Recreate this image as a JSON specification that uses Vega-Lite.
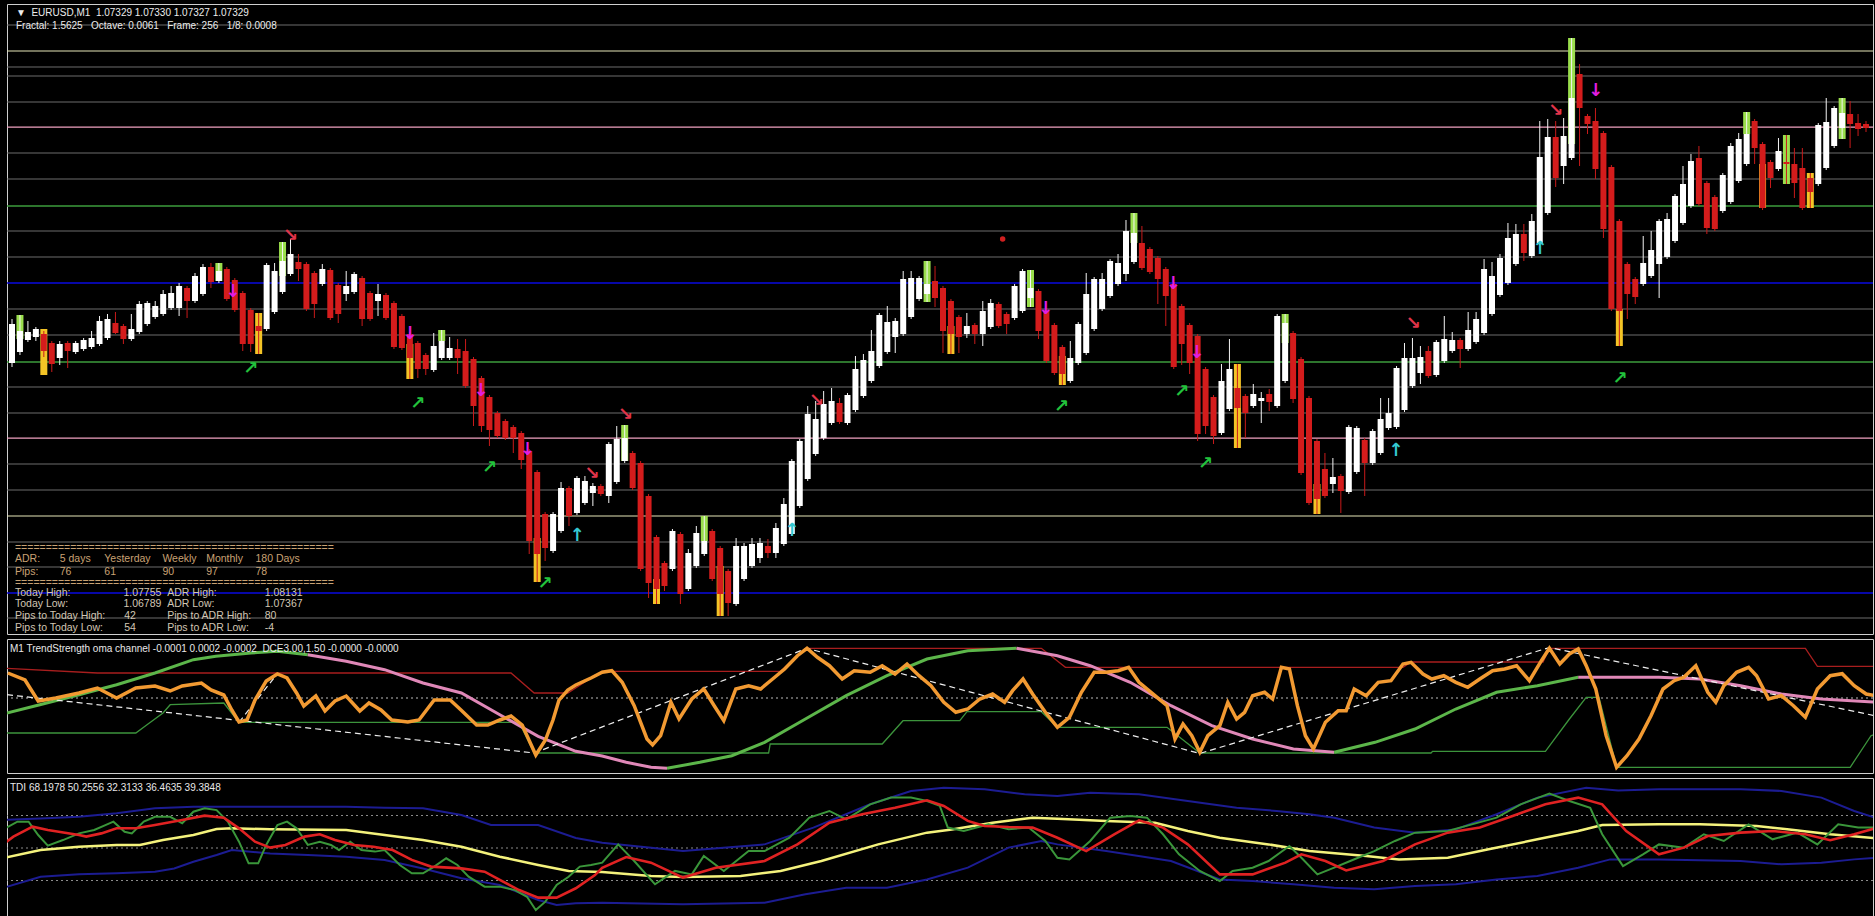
{
"$schema":"https://vega.github.io/schema/vega-lite/v6.json",
"background":"#000000",
"padding":{"left":5,"top":3,"right":4,"bottom":0},
"spacing":3,
"config":{"view":{"stroke":"#cfcfcf","strokeWidth":1}},
"resolve":{"scale":{"x":"independent","y":"independent","color":"independent","strokeWidth":"independent"}},
"datasets":{
"levels":[{"p":1.07432,"k":"gray"},{"p":1.07406,"k":"yel"},{"p":1.0739,"k":"gray"},{"p":1.07381,"k":"gray"},{"p":1.07355,"k":"gray"},{"p":1.0733,"k":"pink"},{"p":1.07304,"k":"gray"},{"p":1.07278,"k":"gray"},{"p":1.07251,"k":"grn"},{"p":1.07226,"k":"gray"},{"p":1.072,"k":"gray"},{"p":1.07174,"k":"blue"},{"p":1.07148,"k":"gray"},{"p":1.07122,"k":"gray"},{"p":1.07095,"k":"grn"},{"p":1.0707,"k":"gray"},{"p":1.07044,"k":"gray"},{"p":1.07019,"k":"pink"},{"p":1.06993,"k":"gray"},{"p":1.06967,"k":"gray"},{"p":1.06941,"k":"yel"},{"p":1.06915,"k":"gray"},{"p":1.0689,"k":"gray"},{"p":1.06864,"k":"blue"},{"p":1.06839,"k":"gray"}],
"candles":[
{"i":0,"o":1.07094,"h":1.07138,"l":1.0709,"c":1.07133},
{"i":1,"o":1.07105,"h":1.07142,"l":1.07102,"c":1.07126},
{"i":2,"o":1.07117,"h":1.07136,"l":1.07115,"c":1.07125},
{"i":3,"o":1.0712,"h":1.0713,"l":1.07116,"c":1.07128},
{"i":4,"o":1.07123,"h":1.07126,"l":1.071,"c":1.07106},
{"i":5,"o":1.07114,"h":1.07116,"l":1.07085,"c":1.07093},
{"i":6,"o":1.07099,"h":1.07116,"l":1.07092,"c":1.07113},
{"i":7,"o":1.07114,"h":1.07116,"l":1.07089,"c":1.07106},
{"i":8,"o":1.07105,"h":1.07116,"l":1.07103,"c":1.07114},
{"i":9,"o":1.07108,"h":1.07119,"l":1.07106,"c":1.07117},
{"i":10,"o":1.0711,"h":1.07126,"l":1.07108,"c":1.07119},
{"i":11,"o":1.07113,"h":1.07141,"l":1.07111,"c":1.07136},
{"i":12,"o":1.07119,"h":1.07143,"l":1.07117,"c":1.07138},
{"i":13,"o":1.07134,"h":1.07145,"l":1.07123,"c":1.07124},
{"i":14,"o":1.07131,"h":1.07133,"l":1.07113,"c":1.07118},
{"i":15,"o":1.07118,"h":1.07143,"l":1.07116,"c":1.07128},
{"i":16,"o":1.07125,"h":1.07156,"l":1.07123,"c":1.07153},
{"i":17,"o":1.07133,"h":1.07156,"l":1.07131,"c":1.07154},
{"i":18,"o":1.0714,"h":1.07156,"l":1.07138,"c":1.07151},
{"i":19,"o":1.07143,"h":1.07167,"l":1.07141,"c":1.07163},
{"i":20,"o":1.07149,"h":1.07171,"l":1.07147,"c":1.07164},
{"i":21,"o":1.07149,"h":1.07174,"l":1.07141,"c":1.07171},
{"i":22,"o":1.07169,"h":1.07171,"l":1.07139,"c":1.07156},
{"i":23,"o":1.07156,"h":1.07184,"l":1.07154,"c":1.07181},
{"i":24,"o":1.07163,"h":1.07193,"l":1.07161,"c":1.0719},
{"i":25,"o":1.0719,"h":1.07194,"l":1.07169,"c":1.07175},
{"i":26,"o":1.07176,"h":1.07194,"l":1.07174,"c":1.07186},
{"i":27,"o":1.07188,"h":1.0719,"l":1.07156,"c":1.07158},
{"i":28,"o":1.07177,"h":1.07179,"l":1.07145,"c":1.07147},
{"i":29,"o":1.07164,"h":1.07166,"l":1.07106,"c":1.07113},
{"i":30,"o":1.07147,"h":1.07149,"l":1.07105,"c":1.07113},
{"i":31,"o":1.07131,"h":1.07144,"l":1.07103,"c":1.07126},
{"i":32,"o":1.07128,"h":1.07194,"l":1.07126,"c":1.07192},
{"i":33,"o":1.07145,"h":1.07194,"l":1.07143,"c":1.07186},
{"i":34,"o":1.07165,"h":1.07215,"l":1.07163,"c":1.07196},
{"i":35,"o":1.07183,"h":1.07218,"l":1.07181,"c":1.07203},
{"i":36,"o":1.07195,"h":1.07203,"l":1.07176,"c":1.07188},
{"i":37,"o":1.07193,"h":1.07195,"l":1.07146,"c":1.07148},
{"i":38,"o":1.07184,"h":1.07186,"l":1.07139,"c":1.07153},
{"i":39,"o":1.07173,"h":1.07193,"l":1.07171,"c":1.07188},
{"i":40,"o":1.07187,"h":1.07189,"l":1.07137,"c":1.07139},
{"i":41,"o":1.07172,"h":1.07174,"l":1.07134,"c":1.07143},
{"i":42,"o":1.07163,"h":1.07186,"l":1.07156,"c":1.07171},
{"i":43,"o":1.07165,"h":1.07185,"l":1.07163,"c":1.07183},
{"i":44,"o":1.07179,"h":1.07181,"l":1.07131,"c":1.07138},
{"i":45,"o":1.07164,"h":1.07166,"l":1.07136,"c":1.07138},
{"i":46,"o":1.07156,"h":1.07173,"l":1.07141,"c":1.07163},
{"i":47,"o":1.07162,"h":1.07164,"l":1.07137,"c":1.07139},
{"i":48,"o":1.07154,"h":1.07156,"l":1.07108,"c":1.0711},
{"i":49,"o":1.07141,"h":1.07143,"l":1.07107,"c":1.07109},
{"i":50,"o":1.07123,"h":1.07125,"l":1.07078,"c":1.07099},
{"i":51,"o":1.07114,"h":1.07116,"l":1.07079,"c":1.07088},
{"i":52,"o":1.07102,"h":1.07104,"l":1.07082,"c":1.07088},
{"i":53,"o":1.07087,"h":1.07124,"l":1.07085,"c":1.07111},
{"i":54,"o":1.07099,"h":1.07127,"l":1.07097,"c":1.07116},
{"i":55,"o":1.07099,"h":1.0712,"l":1.07097,"c":1.07109},
{"i":56,"o":1.07108,"h":1.07118,"l":1.07083,"c":1.07099},
{"i":57,"o":1.07106,"h":1.07118,"l":1.07069,"c":1.07071},
{"i":58,"o":1.07098,"h":1.071,"l":1.07031,"c":1.07051},
{"i":59,"o":1.07079,"h":1.07081,"l":1.07025,"c":1.07031},
{"i":60,"o":1.0706,"h":1.07062,"l":1.07011,"c":1.07027},
{"i":61,"o":1.07044,"h":1.07046,"l":1.07019,"c":1.07021},
{"i":62,"o":1.07036,"h":1.07038,"l":1.07017,"c":1.07019},
{"i":63,"o":1.0703,"h":1.07032,"l":1.07004,"c":1.07019},
{"i":64,"o":1.07024,"h":1.07026,"l":1.06988,"c":1.06997},
{"i":65,"o":1.07006,"h":1.07008,"l":1.06903,"c":1.06916},
{"i":66,"o":1.06985,"h":1.06987,"l":1.06875,"c":1.06903},
{"i":67,"o":1.06943,"h":1.06945,"l":1.06896,"c":1.06909},
{"i":68,"o":1.06906,"h":1.06945,"l":1.06904,"c":1.06943},
{"i":69,"o":1.06926,"h":1.06975,"l":1.06924,"c":1.06969},
{"i":70,"o":1.06969,"h":1.06971,"l":1.06931,"c":1.06941},
{"i":71,"o":1.06944,"h":1.06981,"l":1.06942,"c":1.06979},
{"i":72,"o":1.06954,"h":1.06981,"l":1.06952,"c":1.06976},
{"i":73,"o":1.06964,"h":1.06974,"l":1.06951,"c":1.06971},
{"i":74,"o":1.06971,"h":1.06973,"l":1.06961,"c":1.06963},
{"i":75,"o":1.06961,"h":1.07015,"l":1.06954,"c":1.07013},
{"i":76,"o":1.06975,"h":1.07031,"l":1.06973,"c":1.07018},
{"i":77,"o":1.06996,"h":1.07032,"l":1.06994,"c":1.07019},
{"i":78,"o":1.07004,"h":1.07006,"l":1.06967,"c":1.06969},
{"i":79,"o":1.06994,"h":1.06996,"l":1.06886,"c":1.06888},
{"i":80,"o":1.06961,"h":1.06963,"l":1.06859,"c":1.06874},
{"i":81,"o":1.0692,"h":1.06922,"l":1.06853,"c":1.06868},
{"i":82,"o":1.06894,"h":1.06896,"l":1.06866,"c":1.06871},
{"i":83,"o":1.06888,"h":1.06928,"l":1.06886,"c":1.06926},
{"i":84,"o":1.06923,"h":1.06925,"l":1.06853,"c":1.06863},
{"i":85,"o":1.06868,"h":1.06908,"l":1.06866,"c":1.06904},
{"i":86,"o":1.06891,"h":1.06931,"l":1.06889,"c":1.06924},
{"i":87,"o":1.06903,"h":1.06941,"l":1.06901,"c":1.06916},
{"i":88,"o":1.06926,"h":1.06928,"l":1.06876,"c":1.06878},
{"i":89,"o":1.06909,"h":1.06911,"l":1.06841,"c":1.06863},
{"i":90,"o":1.06886,"h":1.06888,"l":1.06841,"c":1.06854},
{"i":91,"o":1.06853,"h":1.06919,"l":1.06851,"c":1.06911},
{"i":92,"o":1.06878,"h":1.06914,"l":1.06876,"c":1.06911},
{"i":93,"o":1.06891,"h":1.06919,"l":1.06889,"c":1.06913},
{"i":94,"o":1.06899,"h":1.06919,"l":1.06894,"c":1.06914},
{"i":95,"o":1.06911,"h":1.06918,"l":1.06899,"c":1.06904},
{"i":96,"o":1.06904,"h":1.06934,"l":1.06899,"c":1.06929},
{"i":97,"o":1.06913,"h":1.06959,"l":1.06911,"c":1.06953},
{"i":98,"o":1.06923,"h":1.06998,"l":1.06921,"c":1.06996},
{"i":99,"o":1.06951,"h":1.07018,"l":1.06949,"c":1.07016},
{"i":100,"o":1.06978,"h":1.07051,"l":1.06976,"c":1.07043},
{"i":101,"o":1.07003,"h":1.07056,"l":1.07001,"c":1.07038},
{"i":102,"o":1.07019,"h":1.07066,"l":1.07017,"c":1.07053},
{"i":103,"o":1.07034,"h":1.07069,"l":1.07032,"c":1.07056},
{"i":104,"o":1.07054,"h":1.07059,"l":1.07033,"c":1.07035},
{"i":105,"o":1.07034,"h":1.07064,"l":1.07032,"c":1.07062},
{"i":106,"o":1.07047,"h":1.07101,"l":1.07045,"c":1.07088},
{"i":107,"o":1.07061,"h":1.07103,"l":1.07059,"c":1.07097},
{"i":108,"o":1.07076,"h":1.07127,"l":1.07074,"c":1.07106},
{"i":109,"o":1.07091,"h":1.07144,"l":1.07089,"c":1.07142},
{"i":110,"o":1.07105,"h":1.07151,"l":1.07103,"c":1.07135},
{"i":111,"o":1.0712,"h":1.07139,"l":1.07104,"c":1.07136},
{"i":112,"o":1.07123,"h":1.07186,"l":1.07121,"c":1.07178},
{"i":113,"o":1.0714,"h":1.07186,"l":1.07138,"c":1.07179},
{"i":114,"o":1.07158,"h":1.07181,"l":1.07156,"c":1.07179},
{"i":115,"o":1.07163,"h":1.07196,"l":1.07155,"c":1.07173},
{"i":116,"o":1.07176,"h":1.07191,"l":1.0715,"c":1.07159},
{"i":117,"o":1.07169,"h":1.07171,"l":1.07104,"c":1.07126},
{"i":118,"o":1.07156,"h":1.07158,"l":1.07103,"c":1.07123},
{"i":119,"o":1.0714,"h":1.07142,"l":1.07104,"c":1.0712},
{"i":120,"o":1.07123,"h":1.07144,"l":1.07119,"c":1.07131},
{"i":121,"o":1.07132,"h":1.07134,"l":1.07113,"c":1.07123},
{"i":122,"o":1.07123,"h":1.07156,"l":1.07111,"c":1.07146},
{"i":123,"o":1.0713,"h":1.07158,"l":1.07128,"c":1.07154},
{"i":124,"o":1.07153,"h":1.07155,"l":1.07129,"c":1.07131},
{"i":125,"o":1.07143,"h":1.07145,"l":1.07123,"c":1.07133},
{"i":126,"o":1.07139,"h":1.07173,"l":1.07137,"c":1.07171},
{"i":127,"o":1.07146,"h":1.07188,"l":1.07144,"c":1.07186},
{"i":128,"o":1.07159,"h":1.07187,"l":1.0715,"c":1.07169},
{"i":129,"o":1.07166,"h":1.07168,"l":1.07118,"c":1.07126},
{"i":130,"o":1.07146,"h":1.07148,"l":1.07094,"c":1.07096},
{"i":131,"o":1.07132,"h":1.07134,"l":1.07082,"c":1.07084},
{"i":132,"o":1.0711,"h":1.07112,"l":1.07072,"c":1.07083},
{"i":133,"o":1.07076,"h":1.07116,"l":1.07074,"c":1.07099},
{"i":134,"o":1.07094,"h":1.07135,"l":1.07092,"c":1.07133},
{"i":135,"o":1.07104,"h":1.07184,"l":1.07102,"c":1.07163},
{"i":136,"o":1.07128,"h":1.0718,"l":1.07126,"c":1.07178},
{"i":137,"o":1.07148,"h":1.07184,"l":1.07146,"c":1.07178},
{"i":138,"o":1.07161,"h":1.07198,"l":1.07159,"c":1.07196},
{"i":139,"o":1.07173,"h":1.07203,"l":1.07171,"c":1.07194},
{"i":140,"o":1.07183,"h":1.07237,"l":1.07176,"c":1.07226},
{"i":141,"o":1.07195,"h":1.07244,"l":1.07193,"c":1.07224},
{"i":142,"o":1.07214,"h":1.07231,"l":1.07187,"c":1.07189},
{"i":143,"o":1.07208,"h":1.0721,"l":1.07183,"c":1.07185},
{"i":144,"o":1.07199,"h":1.07201,"l":1.07153,"c":1.07178},
{"i":145,"o":1.07188,"h":1.0719,"l":1.07131,"c":1.07161},
{"i":146,"o":1.07173,"h":1.07175,"l":1.07088,"c":1.0709},
{"i":147,"o":1.07151,"h":1.07153,"l":1.07092,"c":1.07113},
{"i":148,"o":1.07132,"h":1.07134,"l":1.07083,"c":1.07094},
{"i":149,"o":1.07121,"h":1.07123,"l":1.07016,"c":1.07023},
{"i":150,"o":1.07088,"h":1.0709,"l":1.07023,"c":1.07031},
{"i":151,"o":1.0706,"h":1.07062,"l":1.07013,"c":1.07021},
{"i":152,"o":1.07024,"h":1.07093,"l":1.07022,"c":1.07076},
{"i":153,"o":1.07048,"h":1.07118,"l":1.07046,"c":1.07088},
{"i":154,"o":1.07069,"h":1.07093,"l":1.07009,"c":1.07049},
{"i":155,"o":1.07061,"h":1.07063,"l":1.07019,"c":1.07044},
{"i":156,"o":1.07051,"h":1.07073,"l":1.07049,"c":1.07063},
{"i":157,"o":1.07056,"h":1.07065,"l":1.07034,"c":1.07059},
{"i":158,"o":1.07063,"h":1.07068,"l":1.07046,"c":1.07055},
{"i":159,"o":1.07051,"h":1.07143,"l":1.07049,"c":1.07141},
{"i":160,"o":1.07076,"h":1.07143,"l":1.07074,"c":1.07134},
{"i":161,"o":1.07124,"h":1.07126,"l":1.07054,"c":1.07058},
{"i":162,"o":1.07098,"h":1.071,"l":1.06982,"c":1.06984},
{"i":163,"o":1.07059,"h":1.07061,"l":1.06952,"c":1.06954},
{"i":164,"o":1.07016,"h":1.07018,"l":1.06943,"c":1.06958},
{"i":165,"o":1.06988,"h":1.07004,"l":1.06959,"c":1.06961},
{"i":166,"o":1.06973,"h":1.06999,"l":1.06964,"c":1.0698},
{"i":167,"o":1.06981,"h":1.06983,"l":1.06944,"c":1.06966},
{"i":168,"o":1.06965,"h":1.07032,"l":1.06963,"c":1.0703},
{"i":169,"o":1.06985,"h":1.07031,"l":1.06983,"c":1.07029},
{"i":170,"o":1.07017,"h":1.07019,"l":1.06961,"c":1.06994},
{"i":171,"o":1.06994,"h":1.07028,"l":1.06992,"c":1.07026},
{"i":172,"o":1.07004,"h":1.07059,"l":1.07002,"c":1.07038},
{"i":173,"o":1.07029,"h":1.07059,"l":1.07027,"c":1.07044},
{"i":174,"o":1.0703,"h":1.07091,"l":1.07028,"c":1.07089},
{"i":175,"o":1.07047,"h":1.07114,"l":1.07045,"c":1.07099},
{"i":176,"o":1.07071,"h":1.07119,"l":1.07069,"c":1.07099},
{"i":177,"o":1.07084,"h":1.07111,"l":1.07073,"c":1.071},
{"i":178,"o":1.07106,"h":1.07111,"l":1.07079,"c":1.07081},
{"i":179,"o":1.07082,"h":1.07117,"l":1.0708,"c":1.07115},
{"i":180,"o":1.07096,"h":1.07141,"l":1.07094,"c":1.07118},
{"i":181,"o":1.07106,"h":1.07125,"l":1.07104,"c":1.07117},
{"i":182,"o":1.07117,"h":1.07119,"l":1.07089,"c":1.07108},
{"i":183,"o":1.07108,"h":1.07145,"l":1.07106,"c":1.07127},
{"i":184,"o":1.07115,"h":1.07145,"l":1.07113,"c":1.07138},
{"i":185,"o":1.07124,"h":1.07198,"l":1.07122,"c":1.07188},
{"i":186,"o":1.07143,"h":1.07195,"l":1.07141,"c":1.07181},
{"i":187,"o":1.07162,"h":1.07203,"l":1.0716,"c":1.07199},
{"i":188,"o":1.07174,"h":1.07234,"l":1.07172,"c":1.07219},
{"i":189,"o":1.07193,"h":1.07233,"l":1.07191,"c":1.07223},
{"i":190,"o":1.07223,"h":1.07233,"l":1.07196,"c":1.07204},
{"i":191,"o":1.07201,"h":1.07243,"l":1.07199,"c":1.07236},
{"i":192,"o":1.07214,"h":1.07336,"l":1.07212,"c":1.073},
{"i":193,"o":1.07244,"h":1.07338,"l":1.07242,"c":1.0732},
{"i":194,"o":1.0732,"h":1.07336,"l":1.0727,"c":1.07279},
{"i":195,"o":1.07291,"h":1.07339,"l":1.07273,"c":1.07321},
{"i":196,"o":1.07299,"h":1.07419,"l":1.07297,"c":1.07359},
{"i":197,"o":1.07383,"h":1.07393,"l":1.07291,"c":1.07349},
{"i":198,"o":1.07341,"h":1.07343,"l":1.07323,"c":1.07333},
{"i":199,"o":1.07336,"h":1.07349,"l":1.07278,"c":1.07288},
{"i":200,"o":1.07324,"h":1.07326,"l":1.07219,"c":1.07228},
{"i":201,"o":1.0729,"h":1.07292,"l":1.07146,"c":1.07148},
{"i":202,"o":1.07236,"h":1.07238,"l":1.07111,"c":1.07146},
{"i":203,"o":1.07193,"h":1.07195,"l":1.07138,"c":1.07163},
{"i":204,"o":1.07178,"h":1.0718,"l":1.07153,"c":1.0716},
{"i":205,"o":1.07173,"h":1.07221,"l":1.07171,"c":1.07194},
{"i":206,"o":1.07181,"h":1.07226,"l":1.07179,"c":1.07207},
{"i":207,"o":1.07193,"h":1.07238,"l":1.07159,"c":1.07236},
{"i":208,"o":1.072,"h":1.07244,"l":1.07198,"c":1.07238},
{"i":209,"o":1.07216,"h":1.07263,"l":1.07214,"c":1.07261},
{"i":210,"o":1.07234,"h":1.07291,"l":1.07232,"c":1.07273},
{"i":211,"o":1.07251,"h":1.07303,"l":1.07249,"c":1.07296},
{"i":212,"o":1.07299,"h":1.07311,"l":1.07251,"c":1.07253},
{"i":213,"o":1.07274,"h":1.07276,"l":1.07223,"c":1.07229},
{"i":214,"o":1.0726,"h":1.07262,"l":1.07226,"c":1.07228},
{"i":215,"o":1.07246,"h":1.07284,"l":1.07244,"c":1.07282},
{"i":216,"o":1.07255,"h":1.07314,"l":1.07253,"c":1.07311},
{"i":217,"o":1.07276,"h":1.07324,"l":1.07274,"c":1.07318},
{"i":218,"o":1.07293,"h":1.07345,"l":1.07291,"c":1.07323},
{"i":219,"o":1.07336,"h":1.07338,"l":1.07293,"c":1.07309},
{"i":220,"o":1.07313,"h":1.07315,"l":1.07247,"c":1.07249},
{"i":221,"o":1.07295,"h":1.07297,"l":1.07269,"c":1.07279},
{"i":222,"o":1.07288,"h":1.07319,"l":1.07286,"c":1.07306},
{"i":223,"o":1.07295,"h":1.07322,"l":1.07273,"c":1.07293},
{"i":224,"o":1.07293,"h":1.07309,"l":1.07259,"c":1.07274},
{"i":225,"o":1.07289,"h":1.07309,"l":1.07247,"c":1.07249},
{"i":226,"o":1.07279,"h":1.07284,"l":1.07249,"c":1.07265},
{"i":227,"o":1.07273,"h":1.07334,"l":1.07271,"c":1.07332},
{"i":228,"o":1.07289,"h":1.07359,"l":1.07287,"c":1.07335},
{"i":229,"o":1.07311,"h":1.07351,"l":1.07309,"c":1.07349},
{"i":230,"o":1.07329,"h":1.07359,"l":1.07318,"c":1.07344},
{"i":231,"o":1.07343,"h":1.07356,"l":1.07309,"c":1.07333},
{"i":232,"o":1.07334,"h":1.07343,"l":1.07321,"c":1.07328},
{"i":233,"o":1.07333,"h":1.07336,"l":1.07325,"c":1.07329}
],
"hl":[
{"i":1,"k":"g","t":1.07142,"b":1.07118},{"i":4,"k":"y","t":1.07128,"b":1.07082},{"i":26,"k":"g","t":1.07194,"b":1.07176},{"i":31,"k":"y","t":1.07144,"b":1.07103},{"i":34,"k":"g","t":1.07215,"b":1.07181},{"i":50,"k":"y","t":1.07113,"b":1.07078},{"i":54,"k":"g","t":1.07127,"b":1.07116},{"i":66,"k":"y","t":1.06919,"b":1.06875},{"i":77,"k":"g","t":1.07032,"b":1.06996},{"i":81,"k":"y","t":1.06878,"b":1.06853},{"i":87,"k":"g","t":1.06941,"b":1.06916},{"i":89,"k":"y","t":1.06891,"b":1.06841},{"i":115,"k":"g","t":1.07196,"b":1.07155},{"i":118,"k":"y","t":1.07131,"b":1.07103},{"i":128,"k":"g","t":1.07187,"b":1.0715},{"i":132,"k":"y","t":1.07101,"b":1.07072},{"i":141,"k":"g","t":1.07244,"b":1.07214},{"i":154,"k":"y","t":1.07093,"b":1.07009},{"i":160,"k":"g","t":1.07143,"b":1.07114},{"i":164,"k":"y","t":1.06973,"b":1.06943},{"i":196,"k":"g","t":1.07419,"b":1.07313},{"i":202,"k":"y","t":1.07148,"b":1.07111},{"i":218,"k":"g","t":1.07345,"b":1.07323},{"i":220,"k":"y","t":1.07293,"b":1.07249},{"i":223,"k":"g","t":1.07322,"b":1.07273},{"i":226,"k":"y","t":1.07284,"b":1.07249},{"i":230,"k":"g","t":1.07359,"b":1.07318}
],
"arrows":[
{"i":27.75,"p":1.07165,"k":"dn","t":"↓"},{"i":50,"p":1.07123,"k":"dn","t":"↓"},{"i":58.9,"p":1.07066,"k":"dn","t":"↓"},{"i":64.75,"p":1.07007,"k":"dn","t":"↓"},{"i":129.9,"p":1.07148,"k":"dn","t":"↓"},{"i":145.9,"p":1.07173,"k":"dn","t":"↓"},{"i":148.9,"p":1.07104,"k":"dn","t":"↓"},{"i":199,"p":1.07366,"k":"dn","t":"↓"},
{"i":30,"p":1.07088,"k":"ur","t":"↗"},{"i":51,"p":1.07053,"k":"ur","t":"↗"},{"i":60,"p":1.06989,"k":"ur","t":"↗"},{"i":67,"p":1.06873,"k":"ur","t":"↗"},{"i":131.9,"p":1.0705,"k":"ur","t":"↗"},{"i":147,"p":1.07065,"k":"ur","t":"↗"},{"i":150,"p":1.06993,"k":"ur","t":"↗"},{"i":202.1,"p":1.07078,"k":"ur","t":"↗"},
{"i":35,"p":1.07221,"k":"dr","t":"↘"},{"i":77.1,"p":1.07042,"k":"dr","t":"↘"},{"i":72.9,"p":1.06983,"k":"dr","t":"↘"},{"i":101.1,"p":1.07056,"k":"dr","t":"↘"},{"i":176.1,"p":1.07133,"k":"dr","t":"↘"},{"i":194,"p":1.07346,"k":"dr","t":"↘"},
{"i":71,"p":1.06921,"k":"up","t":"↑"},{"i":98,"p":1.06926,"k":"up","t":"↑"},{"i":173.9,"p":1.07006,"k":"up","t":"↑"},{"i":192,"p":1.07208,"k":"up","t":"↑"}
],
"header":[
{"i":0.5,"p":1.07444,"t":"▼\u00a0\u00a0EURUSD,M1\u00a0\u00a01.07329\u00a01.07330\u00a01.07327\u00a01.07329"},
{"i":0.5,"p":1.07431,"t":"Fractal:\u00a01.5625\u00a0\u00a0\u00a0Octave:\u00a00.0061\u00a0\u00a0\u00a0Frame:\u00a0256\u00a0\u00a0\u00a01/8:\u00a00.0008"}
],
"notes":[
{"i":0.375,"p":1.06909,"t":"====================================================","k":"a"},
{"i":0.375,"p":1.06898,"t":"ADR:","k":"a"},{"i":6,"p":1.06898,"t":"5 days","k":"a"},{"i":11.6,"p":1.06898,"t":"Yesterday","k":"a"},{"i":18.9,"p":1.06898,"t":"Weekly","k":"a"},{"i":24.4,"p":1.06898,"t":"Monthly","k":"a"},{"i":30.6,"p":1.06898,"t":"180 Days","k":"a"},
{"i":0.375,"p":1.06885,"t":"Pips:","k":"a"},{"i":6,"p":1.06885,"t":"76","k":"a"},{"i":11.6,"p":1.06885,"t":"61","k":"a"},{"i":18.9,"p":1.06885,"t":"90","k":"a"},{"i":24.4,"p":1.06885,"t":"97","k":"a"},{"i":30.6,"p":1.06885,"t":"78","k":"a"},
{"i":0.375,"p":1.06874,"t":"====================================================","k":"a"},
{"i":0.375,"p":1.06864,"t":"Today High:","k":"b"},{"i":14,"p":1.06864,"t":"1.07755","k":"b"},{"i":19.5,"p":1.06864,"t":"ADR High:","k":"b"},{"i":31.75,"p":1.06864,"t":"1.08131","k":"b"},
{"i":0.375,"p":1.06853,"t":"Today Low:","k":"b"},{"i":14,"p":1.06853,"t":"1.06789","k":"b"},{"i":19.5,"p":1.06853,"t":"ADR Low:","k":"b"},{"i":31.75,"p":1.06853,"t":"1.07367","k":"b"},
{"i":0.375,"p":1.06841,"t":"Pips to Today High:","k":"b"},{"i":14.1,"p":1.06841,"t":"42","k":"b"},{"i":19.5,"p":1.06841,"t":"Pips to ADR High:","k":"b"},{"i":31.75,"p":1.06841,"t":"80","k":"b"},
{"i":0.375,"p":1.06829,"t":"Pips to Today Low:","k":"b"},{"i":14.1,"p":1.06829,"t":"54","k":"b"},{"i":19.5,"p":1.06829,"t":"Pips to ADR Low:","k":"b"},{"i":31.75,"p":1.06829,"t":"-4","k":"b"}
],
"or":[
{"i":0.1,"v":100},{"i":2.25,"v":93},{"i":3.9,"v":72},{"i":6.1,"v":75},{"i":9,"v":80},{"i":11.3,"v":85},{"i":13.7,"v":75},{"i":16.1,"v":85},{"i":18.5,"v":87},{"i":20.4,"v":82},{"i":21.9,"v":87},{"i":24.3,"v":90},{"i":25.5,"v":83},{"i":27.1,"v":78},{"i":28.1,"v":63},{"i":29,"v":51},{"i":30,"v":53},{"i":31,"v":73},{"i":32.4,"v":92},{"i":33.8,"v":99},{"i":35,"v":95},{"i":36.2,"v":80},{"i":37.1,"v":67},{"i":38.6,"v":77},{"i":39.75,"v":62},{"i":41,"v":72},{"i":42.4,"v":77},{"i":44.1,"v":62},{"i":45.25,"v":70},{"i":46.75,"v":63},{"i":48.1,"v":53},{"i":50.1,"v":51},{"i":51.5,"v":53},{"i":53.4,"v":73},{"i":55.4,"v":73},{"i":56.75,"v":63},{"i":58.7,"v":48},{"i":60.1,"v":48},{"i":61.6,"v":53},{"i":63,"v":57},{"i":64.4,"v":48},{"i":66.1,"v":18},{"i":67.3,"v":33},{"i":68.25,"v":53},{"i":69,"v":73},{"i":70.1,"v":83},{"i":71.1,"v":88},{"i":73,"v":95},
{"i":74.4,"v":100.7},{"i":75.6,"v":102.3},{"i":76.9,"v":90.7},{"i":78.4,"v":67.3},{"i":80,"v":34},{"i":80.7,"v":28},{"i":81.7,"v":37.3},{"i":83,"v":70.7},{"i":84,"v":54},{"i":85.6,"v":74},{"i":87.1,"v":84},{"i":88.4,"v":67.3},{"i":89.6,"v":52.3},{"i":91.1,"v":84},{"i":92.7,"v":87.3},{"i":94.2,"v":84},{"i":95.7,"v":94},{"i":97.2,"v":104},{"i":98.8,"v":117.3},{"i":100,"v":124.7},{"i":101.3,"v":115.7},{"i":102.8,"v":107.3},{"i":104.4,"v":94},{"i":105.9,"v":102.3},{"i":107.9,"v":100.7},{"i":109.4,"v":107.3},{"i":111,"v":99},{"i":112.5,"v":109},{"i":114,"v":97.3},{"i":115.5,"v":87.3},{"i":117.1,"v":70.7},{"i":118.6,"v":60.7},{"i":120.1,"v":64},{"i":121.6,"v":74},{"i":123.2,"v":79},{"i":124.7,"v":70.7},{"i":125.7,"v":82.3},{"i":127,"v":94},{"i":128.2,"v":79},{"i":129.8,"v":60.7},{"i":131.3,"v":45.7},{"i":132.8,"v":55.7},{"i":134.3,"v":80.7},{"i":135.9,"v":100.7},{"i":137.4,"v":100.7},{"i":138.9,"v":102.3},{"i":140.2,"v":105.7},{"i":141.5,"v":90.7},{"i":143.5,"v":77.3},{"i":145,"v":67.3},{"i":146,"v":34},{"i":147,"v":49},{"i":148.1,"v":37.3},{"i":149.1,"v":20.7},{"i":150.1,"v":37.3},{"i":151.6,"v":47.3},{"i":152.6,"v":70.7},{"i":153.7,"v":54},{"i":154.7,"v":60.7},{"i":155.7,"v":77.3},{"i":157.2,"v":80.7},{"i":158.2,"v":74},{"i":159.3,"v":105.7},{"i":160.3,"v":104},{"i":161.3,"v":67.3},{"i":162.3,"v":37.3},{"i":163.3,"v":24},{"i":164.8,"v":50.7},{"i":166.4,"v":62.3},{"i":167.4,"v":62.3},{"i":168.4,"v":84},{"i":169.9,"v":77.3},{"i":171.4,"v":90.7},{"i":173,"v":92.3},{"i":174.5,"v":109},{"i":175.5,"v":110.7},{"i":177,"v":99},{"i":178.1,"v":94},{"i":179.6,"v":97.3},{"i":181.1,"v":90.7},{"i":182.6,"v":85.7},{"i":184.1,"v":94},{"i":185.7,"v":102.3},{"i":187.2,"v":104},{"i":188.7,"v":107.3},{"i":190.3,"v":92.3},{"i":191.8,"v":112.3},{"i":192.8,"v":124.7},{"i":194.1,"v":109},{"i":195.3,"v":119},{"i":196.4,"v":124},{"i":197.4,"v":107.3},{"i":198.6,"v":84},{"i":199.9,"v":37.3},{"i":201.2,"v":5.7},{"i":202.5,"v":17.3},{"i":204,"v":34},{"i":205.5,"v":57.3},{"i":207,"v":84},{"i":208.4,"v":92.3},{"i":209.6,"v":95.7},{"i":211.1,"v":107.3},{"i":212.6,"v":80.7},{"i":213.6,"v":70.7},{"i":214.6,"v":87.3},{"i":216.2,"v":100.7},{"i":217.7,"v":105.7},{"i":218.7,"v":97.3},{"i":220.2,"v":74},{"i":221.8,"v":77.3},{"i":223.3,"v":67.3},{"i":224.8,"v":55.7},{"i":226.3,"v":84},{"i":227.9,"v":97.3},{"i":229.4,"v":99.3},{"i":230.9,"v":87.3},{"i":232.4,"v":79},{"i":233.5,"v":77.3}
],
"rd":[{"i":-1,"v":105},{"i":11.3,"v":100},{"i":63,"v":100},{"i":65.9,"v":80},{"i":70.1,"v":80},{"i":73,"v":95},{"i":74.4,"v":101.7},{"i":96.7,"v":101.7},{"i":99.8,"v":124.7},{"i":129.3,"v":124.7},{"i":132.3,"v":105.7},{"i":174.5,"v":105.7},{"i":175.5,"v":111},{"i":192,"v":111},{"i":192.8,"v":124.7},{"i":224.8,"v":124.7},{"i":226.3,"v":106.7},{"i":234,"v":106.7}],
"gl":[{"i":-1,"v":40},{"i":16.1,"v":40},{"i":17.5,"v":48.3},{"i":19.5,"v":60},{"i":20.4,"v":68.3},{"i":27.1,"v":70},{"i":29,"v":50.7},{"i":64,"v":50.7},{"i":65.9,"v":20},{"i":95.2,"v":20},{"i":95.4,"v":29},{"i":109.4,"v":29},{"i":112,"v":52.3},{"i":119.1,"v":52.3},{"i":120,"v":61.3},{"i":129.3,"v":61.3},{"i":131.3,"v":45.7},{"i":145,"v":45.7},{"i":149.1,"v":20},{"i":178,"v":20},{"i":178.2,"v":21.7},{"i":192.3,"v":21.7},{"i":195.3,"v":54},{"i":197.4,"v":75.7},{"i":199,"v":75.7},{"i":201.2,"v":5.7},{"i":230.4,"v":5.7},{"i":233,"v":37.3},{"i":234,"v":40}],
"sm":[
{"i":-1,"v":58,"s":"a"},{"i":4.1,"v":68.3,"s":"a"},{"i":9,"v":78.3,"s":"a"},{"i":13.7,"v":88.3,"s":"a"},{"i":18.5,"v":100,"s":"a"},{"i":23.3,"v":113.3,"s":"a"},{"i":26.1,"v":116.7,"s":"a"},{"i":30.5,"v":120,"s":"a"},{"i":33.8,"v":121.7,"s":"a"},{"i":37.6,"v":118.3,"s":"a"},
{"i":37.6,"v":118.3,"s":"b"},{"i":42.4,"v":111.7,"s":"b"},{"i":47.2,"v":103.3,"s":"b"},{"i":52,"v":90,"s":"b"},{"i":56.8,"v":80,"s":"b"},{"i":61.6,"v":58.3,"s":"b"},{"i":66.4,"v":36.7,"s":"b"},{"i":71.1,"v":21.7,"s":"b"},{"i":74.4,"v":17,"s":"b"},{"i":77.4,"v":10.7,"s":"b"},{"i":80.5,"v":5.7,"s":"b"},{"i":82.5,"v":4.7,"s":"b"},
{"i":82.5,"v":4.7,"s":"c"},{"i":86.6,"v":10.7,"s":"c"},{"i":90.6,"v":17.3,"s":"c"},{"i":94.7,"v":30.7,"s":"c"},{"i":99.8,"v":54,"s":"c"},{"i":104.9,"v":77.3,"s":"c"},{"i":110,"v":97.3,"s":"c"},{"i":115,"v":114,"s":"c"},{"i":120.1,"v":122.3,"s":"c"},{"i":126.2,"v":124.7,"s":"c"},
{"i":126.2,"v":124.7,"s":"d"},{"i":131.3,"v":117.3,"s":"d"},{"i":135.4,"v":107.3,"s":"d"},{"i":140.4,"v":90.7,"s":"d"},{"i":145.5,"v":67.3,"s":"d"},{"i":150.6,"v":47.3,"s":"d"},{"i":155.7,"v":34,"s":"d"},{"i":160.8,"v":24,"s":"d"},{"i":165.9,"v":20.7,"s":"d"},
{"i":165.9,"v":20.7,"s":"e"},{"i":171,"v":30.7,"s":"e"},{"i":176,"v":44,"s":"e"},{"i":181.1,"v":64,"s":"e"},{"i":186.2,"v":80.7,"s":"e"},{"i":191.3,"v":87.3,"s":"e"},{"i":196.4,"v":95.7,"s":"e"},
{"i":196.4,"v":95.7,"s":"f"},{"i":201.4,"v":95.7,"s":"f"},{"i":206.5,"v":95.7,"s":"f"},{"i":211.6,"v":94,"s":"f"},{"i":216.7,"v":87.3,"s":"f"},{"i":221.8,"v":79,"s":"f"},{"i":226.8,"v":74,"s":"f"},{"i":233.5,"v":71,"s":"f"}
],
"dw":[{"i":0,"v":78.3,"s":"m"},{"i":65.9,"v":20,"s":"m"},{"i":100,"v":124.7,"s":"m"},{"i":149.1,"v":19.5,"s":"m"},{"i":192.8,"v":125.5,"s":"m"},{"i":233.5,"v":57.3,"s":"m"},{"i":29,"v":50.7,"s":"n"},{"i":33.8,"v":99.3,"s":"n"}],
"tg":[{"i":-0.6,"T":60},{"i":1.3,"T":64.6},{"i":2.7,"T":64.6},{"i":3.9,"T":57.2},{"i":5.1,"T":51.3},{"i":7,"T":54.4},{"i":9,"T":58.1},{"i":10.9,"T":60},{"i":12.3,"T":62.7},{"i":13.3,"T":64.6},{"i":14.7,"T":59},{"i":15.6,"T":58.1},{"i":17.1,"T":64.6},{"i":18.5,"T":67.3},{"i":20.4,"T":67.3},{"i":21.9,"T":63.7},{"i":23.3,"T":70.1},{"i":24.7,"T":72},{"i":26.2,"T":71},{"i":27.6,"T":64.6},{"i":29,"T":53.5},{"i":30.2,"T":41.5},{"i":31.4,"T":41.5},{"i":32.4,"T":51.7},{"i":33.8,"T":62.7},{"i":35,"T":64.6},{"i":36.2,"T":60.9},{"i":37.6,"T":51.7},{"i":39.1,"T":53.5},{"i":40.5,"T":51.7},{"i":41.5,"T":48.9},{"i":42.9,"T":53.5},{"i":44.3,"T":48.9},{"i":46,"T":48},{"i":47.2,"T":48.9},{"i":49.1,"T":40.6},{"i":50.6,"T":36},{"i":52,"T":36},{"i":53.4,"T":39.7},{"i":54.9,"T":44.3},{"i":56.3,"T":40.6},{"i":57.7,"T":34.1},{"i":59.7,"T":28.6},{"i":61.6,"T":28.6},{"i":63.5,"T":26.7},{"i":65,"T":23},{"i":66.1,"T":15.7},{"i":67.3,"T":20.3},{"i":68.7,"T":29.5},{"i":70.2,"T":34.1},{"i":71.6,"T":39.7},{"i":73,"T":40.6},{"i":74.4,"T":41.9},{"i":76.4,"T":52},{"i":78.4,"T":42.8},{"i":81,"T":29.9},{"i":83.5,"T":37.3},{"i":85.6,"T":35.4},{"i":87.1,"T":45.6},{"i":89.6,"T":37.3},{"i":92.7,"T":48.3},{"i":94.7,"T":48.3},{"i":97.8,"T":55.7},{"i":100.3,"T":66.8},{"i":102.8,"T":70.5},{"i":104.9,"T":65.9},{"i":107.9,"T":74.2},{"i":110.5,"T":77.9},{"i":113,"T":77.9},{"i":115,"T":76},{"i":116.6,"T":73.3},{"i":117.6,"T":61.3},{"i":119.6,"T":59.4},{"i":122.7,"T":63.1},{"i":125.2,"T":60.4},{"i":127.7,"T":61.3},{"i":129.8,"T":53.9},{"i":131.3,"T":44.6},{"i":132.8,"T":43.7},{"i":135.4,"T":53.9},{"i":137.9,"T":66.8},{"i":140.4,"T":67.7},{"i":142.5,"T":66.8},{"i":144.5,"T":57.6},{"i":146.5,"T":46.5},{"i":149.1,"T":37.3},{"i":151.6,"T":31.7},{"i":153.2,"T":37.3},{"i":155.7,"T":39.1},{"i":157.7,"T":42.8},{"i":160.3,"T":51.1},{"i":161.8,"T":44.6},{"i":163.8,"T":35.4},{"i":165.9,"T":39.1},{"i":167.9,"T":42.8},{"i":170.9,"T":48.3},{"i":173.5,"T":53.9},{"i":176,"T":58.5},{"i":180.1,"T":59.4},{"i":183.1,"T":63.1},{"i":186.2,"T":66.8},{"i":189.2,"T":74.2},{"i":192.8,"T":80.1},{"i":195.3,"T":76},{"i":197.9,"T":72.3},{"i":199.4,"T":57.6},{"i":202,"T":40},{"i":204.5,"T":46.5},{"i":206.5,"T":52},{"i":209.6,"T":50.2},{"i":212.1,"T":57.6},{"i":214.6,"T":53.9},{"i":217.7,"T":63.1},{"i":220.7,"T":54.8},{"i":223.8,"T":58.5},{"i":226.3,"T":52},{"i":228.9,"T":63.1},{"i":231.4,"T":61.3},{"i":233.5,"T":61.3}],
"tr":[{"i":-0.6,"T":51.7},{"i":0.8,"T":56.3},{"i":3.2,"T":61.8},{"i":5.1,"T":60},{"i":9,"T":57.2},{"i":9.9,"T":56.3},{"i":11.8,"T":58.1},{"i":13.7,"T":60.9},{"i":16.1,"T":60.9},{"i":18.5,"T":62.7},{"i":21.9,"T":65.5},{"i":24.7,"T":67.9},{"i":27.1,"T":66.8},{"i":29,"T":60.9},{"i":31,"T":53.5},{"i":32.9,"T":50.2},{"i":34.8,"T":51.7},{"i":37.2,"T":56.3},{"i":39.1,"T":57.6},{"i":41,"T":54.4},{"i":43.4,"T":51.7},{"i":45.8,"T":50.7},{"i":48.2,"T":48.9},{"i":50.6,"T":43.4},{"i":53,"T":39.7},{"i":56.8,"T":38.7},{"i":59.7,"T":36.9},{"i":61.6,"T":32.3},{"i":64,"T":26.7},{"i":66.4,"T":22.5},{"i":68.7,"T":22.5},{"i":71.1,"T":27.7},{"i":73.5,"T":35},{"i":74.4,"T":39},{"i":77.4,"T":45},{"i":80.5,"T":41.9},{"i":84.5,"T":33.6},{"i":88.6,"T":39.1},{"i":94.7,"T":42.8},{"i":98.8,"T":52},{"i":102.8,"T":64},{"i":106.9,"T":68.7},{"i":111,"T":72.3},{"i":115,"T":76.4},{"i":117.1,"T":73.3},{"i":120.1,"T":65},{"i":122.2,"T":62.2},{"i":125.2,"T":61.6},{"i":128.2,"T":61.3},{"i":131.3,"T":55.7},{"i":134.9,"T":48.3},{"i":138.4,"T":57.6},{"i":141.5,"T":65.3},{"i":144.5,"T":61.3},{"i":147.6,"T":52},{"i":151.6,"T":35.4},{"i":155.7,"T":35.4},{"i":159.8,"T":41.9},{"i":161.8,"T":46.5},{"i":164.8,"T":42.8},{"i":167.4,"T":37.6},{"i":172,"T":42.8},{"i":176,"T":52},{"i":180.1,"T":58.5},{"i":184.1,"T":61.3},{"i":188.2,"T":67.7},{"i":192.3,"T":74.2},{"i":196.4,"T":77.9},{"i":199.4,"T":74.2},{"i":202.4,"T":59.4},{"i":206.5,"T":46.5},{"i":209.6,"T":50.2},{"i":212.6,"T":56.6},{"i":216.7,"T":58.5},{"i":220.7,"T":59.4},{"i":224.8,"T":57.6},{"i":227.9,"T":54.3},{"i":230.9,"T":57.6},{"i":233.5,"T":60.9}],
"ty":[{"i":-0.6,"T":44.3},{"i":4.2,"T":48.9},{"i":9,"T":50.7},{"i":13.7,"T":51.7},{"i":16.6,"T":51.7},{"i":19.5,"T":54.4},{"i":23.3,"T":57.2},{"i":26.2,"T":60.5},{"i":28.1,"T":60.9},{"i":32.9,"T":60.4},{"i":42.4,"T":60},{"i":47.2,"T":57.2},{"i":52,"T":54.4},{"i":56.8,"T":50.7},{"i":61.6,"T":45.2},{"i":66.4,"T":40.6},{"i":70.2,"T":37.3},{"i":74.4,"T":36.7},{"i":80.5,"T":34.5},{"i":84.5,"T":33.9},{"i":91.7,"T":34.5},{"i":96.7,"T":37.3},{"i":101.8,"T":42.8},{"i":108.9,"T":52},{"i":115,"T":58.5},{"i":118.1,"T":60.3},{"i":123.2,"T":64},{"i":128.2,"T":66.8},{"i":131.3,"T":66.2},{"i":137.4,"T":65},{"i":143.5,"T":64},{"i":147.6,"T":59.4},{"i":151.6,"T":55.7},{"i":157.7,"T":52},{"i":162.8,"T":48.3},{"i":169.9,"T":45.6},{"i":174,"T":43.7},{"i":180.1,"T":44.6},{"i":185.2,"T":49.3},{"i":191.3,"T":54.8},{"i":196.4,"T":59.4},{"i":199.4,"T":62.7},{"i":206.5,"T":63.1},{"i":211.6,"T":63.1},{"i":218.7,"T":62.2},{"i":222.8,"T":60.3},{"i":227.9,"T":57.6},{"i":233.5,"T":55.4}],
"tb":[{"i":-0.6,"T":65.5,"s":"u"},{"i":4.2,"T":66.4,"s":"u"},{"i":9,"T":67.3,"s":"u"},{"i":13.7,"T":69.2,"s":"u"},{"i":18.5,"T":72,"s":"u"},{"i":23.3,"T":72.9,"s":"u"},{"i":28.1,"T":72.9,"s":"u"},{"i":32.9,"T":72.9,"s":"u"},{"i":42.4,"T":72.9,"s":"u"},{"i":47.2,"T":72.3,"s":"u"},{"i":52,"T":72,"s":"u"},{"i":56.8,"T":68.3,"s":"u"},{"i":60.5,"T":62.7,"s":"u"},{"i":66.4,"T":62.7,"s":"u"},{"i":71.1,"T":55.5,"s":"u"},{"i":74.4,"T":52.9,"s":"u"},{"i":84.5,"T":48.3,"s":"u"},{"i":94.7,"T":52,"s":"u"},{"i":100.8,"T":61.3,"s":"u"},{"i":107.9,"T":74.2,"s":"u"},{"i":113,"T":81.6,"s":"u"},{"i":117.1,"T":83.4,"s":"u"},{"i":122.2,"T":82.5,"s":"u"},{"i":127.2,"T":79.7,"s":"u"},{"i":131.3,"T":78.8,"s":"u"},{"i":135.4,"T":80.6,"s":"u"},{"i":141.5,"T":79.7,"s":"u"},{"i":147.6,"T":76,"s":"u"},{"i":153.7,"T":72.3,"s":"u"},{"i":158.7,"T":70.5,"s":"u"},{"i":162.8,"T":68.7,"s":"u"},{"i":165.9,"T":66.8,"s":"u"},{"i":170.9,"T":61.3,"s":"u"},{"i":176,"T":58.5,"s":"u"},{"i":181.1,"T":60.3,"s":"u"},{"i":186.2,"T":68.7,"s":"u"},{"i":191.3,"T":77.9,"s":"u"},{"i":197.4,"T":83.4,"s":"u"},{"i":201.4,"T":81.9,"s":"u"},{"i":206.5,"T":82.5,"s":"u"},{"i":216.7,"T":82.5,"s":"u"},{"i":221.8,"T":81.6,"s":"u"},{"i":226.8,"T":77.9,"s":"u"},{"i":230.9,"T":70.5,"s":"u"},{"i":233.5,"T":66.8,"s":"u"},
{"i":-0.6,"T":27.7,"s":"l"},{"i":4.2,"T":34.1,"s":"l"},{"i":9,"T":35.4,"s":"l"},{"i":13.7,"T":36,"s":"l"},{"i":18.5,"T":36.9,"s":"l"},{"i":20.9,"T":38.7,"s":"l"},{"i":23.3,"T":42.4,"s":"l"},{"i":26.2,"T":46.1,"s":"l"},{"i":28.1,"T":48.9,"s":"l"},{"i":32.9,"T":47,"s":"l"},{"i":37.6,"T":46.1,"s":"l"},{"i":42.4,"T":45.2,"s":"l"},{"i":47.2,"T":43.4,"s":"l"},{"i":52,"T":38.7,"s":"l"},{"i":56.8,"T":33.2,"s":"l"},{"i":61.6,"T":29.5,"s":"l"},{"i":66.4,"T":21.2,"s":"l"},{"i":68.7,"T":18.4,"s":"l"},{"i":71.1,"T":19.4,"s":"l"},{"i":74.4,"T":19.7,"s":"l"},{"i":84.5,"T":18.8,"s":"l"},{"i":94.7,"T":19.7,"s":"l"},{"i":99.8,"T":24.4,"s":"l"},{"i":104.9,"T":28,"s":"l"},{"i":110,"T":28,"s":"l"},{"i":115,"T":32.6,"s":"l"},{"i":120.1,"T":39.1,"s":"l"},{"i":125.2,"T":50.2,"s":"l"},{"i":129.3,"T":53.9,"s":"l"},{"i":131.3,"T":52,"s":"l"},{"i":137.4,"T":48.3,"s":"l"},{"i":145.5,"T":42.8,"s":"l"},{"i":151.6,"T":32.6,"s":"l"},{"i":155.7,"T":31.7,"s":"l"},{"i":160.8,"T":29.9,"s":"l"},{"i":165.9,"T":28,"s":"l"},{"i":170.9,"T":27.1,"s":"l"},{"i":176,"T":29,"s":"l"},{"i":181.1,"T":29.9,"s":"l"},{"i":186.2,"T":32.6,"s":"l"},{"i":191.3,"T":34.5,"s":"l"},{"i":196.4,"T":39.1,"s":"l"},{"i":200.4,"T":43.7,"s":"l"},{"i":206.5,"T":43.7,"s":"l"},{"i":216.7,"T":42.8,"s":"l"},{"i":221.8,"T":41,"s":"l"},{"i":226.8,"T":41.9,"s":"l"},{"i":230.9,"T":43.7,"s":"l"},{"i":233.5,"T":44.6,"s":"l"}]
},
"vconcat":[
{
"width":1866,"height":630,
"resolve":{"scale":{"color":"independent","strokeWidth":"independent"}},
"layer":[
{"data":{"name":"levels"},"mark":{"type":"rule"},"encoding":{
"y":{"field":"p","type":"quantitative","scale":{"domain":[1.06823,1.07453],"nice":false,"zero":false},"axis":null},
"color":{"field":"k","type":"nominal","scale":{"domain":["gray","yel","pink","grn","blue"],"range":["#6c6c6c","#e6e6b8","#f0a2c0","#3c9c3c","#0a0ae0"]},"legend":null},
"strokeWidth":{"field":"k","type":"nominal","scale":{"domain":["gray","yel","pink","grn","blue"],"range":[1,1.5,2.2,1.5,3.8]},"legend":null}}},
{"data":{"name":"hl"},"mark":{"type":"bar","width":7,"clip":true},"encoding":{
"x":{"field":"i","type":"quantitative","scale":{"domain":[0,233.25],"nice":false,"zero":false},"axis":null},
"y":{"field":"t","type":"quantitative","scale":{"domain":[1.06823,1.07453],"nice":false,"zero":false},"axis":null},
"y2":{"field":"b"},
"color":{"field":"k","type":"nominal","scale":{"domain":["g","y"],"range":["#9ade4c","#f4c426"]},"legend":null}}},
{"data":{"name":"candles"},"mark":{"type":"rule","clip":true,"strokeWidth":1},"encoding":{
"x":{"field":"i","type":"quantitative","scale":{"domain":[0,233.25],"nice":false,"zero":false},"axis":null},
"y":{"field":"l","type":"quantitative","scale":{"domain":[1.06823,1.07453],"nice":false,"zero":false},"axis":null},
"y2":{"field":"h"},
"color":{"condition":{"test":"datum.c >= datum.o","value":"#f4f4f4"},"value":"#c81a1a"}}},
{"data":{"name":"candles"},"mark":{"type":"bar","width":6,"clip":true},"encoding":{
"x":{"field":"i","type":"quantitative","scale":{"domain":[0,233.25],"nice":false,"zero":false},"axis":null},
"y":{"field":"o","type":"quantitative","scale":{"domain":[1.06823,1.07453],"nice":false,"zero":false},"axis":null},
"y2":{"field":"c"},
"color":{"condition":{"test":"datum.c >= datum.o","value":"#ffffff"},"value":"#d41c1c"}}},
{"data":{"name":"arrows"},"mark":{"type":"text","font":"DejaVu Sans","fontSize":18,"fontWeight":"bold","align":"center","baseline":"middle","clip":true},"encoding":{
"x":{"field":"i","type":"quantitative","scale":{"domain":[0,233.25],"nice":false,"zero":false},"axis":null},
"y":{"field":"p","type":"quantitative","scale":{"domain":[1.06823,1.07453],"nice":false,"zero":false},"axis":null},
"text":{"field":"t"},
"color":{"field":"k","type":"nominal","scale":{"domain":["dn","ur","dr","up"],"range":["#e21ee2","#22c23c","#e0344a","#34c8d2"]},"legend":null}}},
{"data":{"values":[{"i":124.5,"p":1.07218}]},"mark":{"type":"circle","size":30,"color":"#d02020","opacity":1},"encoding":{
"x":{"field":"i","type":"quantitative","scale":{"domain":[0,233.25],"nice":false,"zero":false},"axis":null},
"y":{"field":"p","type":"quantitative","scale":{"domain":[1.06823,1.07453],"nice":false,"zero":false},"axis":null}}},
{"data":{"name":"header"},"mark":{"type":"text","font":"Liberation Sans","fontSize":10,"align":"left","baseline":"middle","color":"#ececec"},"encoding":{
"x":{"field":"i","type":"quantitative","scale":{"domain":[0,233.25],"nice":false,"zero":false},"axis":null},
"y":{"field":"p","type":"quantitative","scale":{"domain":[1.06823,1.07453],"nice":false,"zero":false},"axis":null},
"text":{"field":"t"}}},
{"data":{"name":"notes"},"mark":{"type":"text","font":"Liberation Sans","fontSize":10.5,"align":"left","baseline":"middle"},"encoding":{
"x":{"field":"i","type":"quantitative","scale":{"domain":[0,233.25],"nice":false,"zero":false},"axis":null},
"y":{"field":"p","type":"quantitative","scale":{"domain":[1.06823,1.07453],"nice":false,"zero":false},"axis":null},
"text":{"field":"t"},
"color":{"field":"k","type":"nominal","scale":{"domain":["a","b"],"range":["#c9a274","#d2c6b4"]},"legend":null}}}
]
},
{
"width":1866,"height":134,
"resolve":{"scale":{"color":"independent"}},
"layer":[
{"data":{"values":[{"v":75}]},"mark":{"type":"rule","color":"#bdbdbd","strokeDash":[2,3],"strokeWidth":1},"encoding":{
"y":{"field":"v","type":"quantitative","scale":{"domain":[0,134],"nice":false,"zero":false},"axis":null}}},
{"data":{"name":"rd"},"mark":{"type":"line","color":"#a81e1e","strokeWidth":1.3,"clip":true},"encoding":{
"x":{"field":"i","type":"quantitative","scale":{"domain":[0,233.25],"nice":false,"zero":false},"axis":null},
"y":{"field":"v","type":"quantitative","scale":{"domain":[0,134],"nice":false,"zero":false},"axis":null}}},
{"data":{"name":"gl"},"mark":{"type":"line","color":"#3c943c","strokeWidth":1.3,"clip":true},"encoding":{
"x":{"field":"i","type":"quantitative","scale":{"domain":[0,233.25],"nice":false,"zero":false},"axis":null},
"y":{"field":"v","type":"quantitative","scale":{"domain":[0,134],"nice":false,"zero":false},"axis":null}}},
{"data":{"name":"sm"},"mark":{"type":"line","strokeWidth":3,"clip":true},"encoding":{
"x":{"field":"i","type":"quantitative","scale":{"domain":[0,233.25],"nice":false,"zero":false},"axis":null},
"y":{"field":"v","type":"quantitative","scale":{"domain":[0,134],"nice":false,"zero":false},"axis":null},
"detail":{"field":"s","type":"nominal"},
"color":{"field":"s","type":"nominal","scale":{"domain":["a","b","c","d","e","f"],"range":["#5cb64a","#e088b8","#5cb64a","#e088b8","#5cb64a","#e088b8"]},"legend":null}}},
{"data":{"name":"dw"},"mark":{"type":"line","color":"#eeeeee","strokeWidth":1.2,"strokeDash":[6,4],"clip":true},"encoding":{
"x":{"field":"i","type":"quantitative","scale":{"domain":[0,233.25],"nice":false,"zero":false},"axis":null},
"y":{"field":"v","type":"quantitative","scale":{"domain":[0,134],"nice":false,"zero":false},"axis":null},
"detail":{"field":"s","type":"nominal"}}},
{"data":{"name":"or"},"mark":{"type":"line","color":"#f29a32","strokeWidth":3.5,"clip":true},"encoding":{
"x":{"field":"i","type":"quantitative","scale":{"domain":[0,233.25],"nice":false,"zero":false},"axis":null},
"y":{"field":"v","type":"quantitative","scale":{"domain":[0,134],"nice":false,"zero":false},"axis":null}}},
{"data":{"values":[{"i":0.375,"v":124,"t":"M1 TrendStrength oma channel -0.0001 0.0002 -0.0002\u00a0\u00a0DCE3.00,1.50 -0.0000 -0.0000"}]},"mark":{"type":"text","font":"Liberation Sans","fontSize":10,"align":"left","baseline":"middle","color":"#e8e8e8"},"encoding":{
"x":{"field":"i","type":"quantitative","scale":{"domain":[0,233.25],"nice":false,"zero":false},"axis":null},
"y":{"field":"v","type":"quantitative","scale":{"domain":[0,134],"nice":false,"zero":false},"axis":null},
"text":{"field":"t"}}}
]
},
{
"width":1866,"height":140,
"layer":[
{"data":{"values":[{"T":68},{"T":50},{"T":32}]},"mark":{"type":"rule","color":"#8c8c8c","strokeDash":[2,3],"strokeWidth":1},"encoding":{
"y":{"field":"T","type":"quantitative","scale":{"domain":[11.24,88.76],"nice":false,"zero":false},"axis":null}}},
{"data":{"name":"tb"},"mark":{"type":"line","color":"#1c1c92","strokeWidth":2,"clip":true},"encoding":{
"x":{"field":"i","type":"quantitative","scale":{"domain":[0,233.25],"nice":false,"zero":false},"axis":{"orient":"bottom","values":[0,8,16,24,32,40,48,56,64,72,80,88,96,104,112,120,128,136,144,152,160,168,176,184,192,200,208,216,224,232],"labels":false,"domain":false,"grid":false,"ticks":true,"tickSize":3,"tickColor":"#c8c8c8","title":null}},
"y":{"field":"T","type":"quantitative","scale":{"domain":[11.24,88.76],"nice":false,"zero":false},"axis":null},
"detail":{"field":"s","type":"nominal"}}},
{"data":{"name":"ty"},"mark":{"type":"line","color":"#f4f27c","strokeWidth":2.5,"clip":true},"encoding":{
"x":{"field":"i","type":"quantitative","scale":{"domain":[0,233.25],"nice":false,"zero":false},"axis":null},
"y":{"field":"T","type":"quantitative","scale":{"domain":[11.24,88.76],"nice":false,"zero":false},"axis":null}}},
{"data":{"name":"tg"},"mark":{"type":"line","color":"#3a963a","strokeWidth":2,"clip":true},"encoding":{
"x":{"field":"i","type":"quantitative","scale":{"domain":[0,233.25],"nice":false,"zero":false},"axis":null},
"y":{"field":"T","type":"quantitative","scale":{"domain":[11.24,88.76],"nice":false,"zero":false},"axis":null}}},
{"data":{"name":"tr"},"mark":{"type":"line","color":"#e02222","strokeWidth":2.6,"clip":true},"encoding":{
"x":{"field":"i","type":"quantitative","scale":{"domain":[0,233.25],"nice":false,"zero":false},"axis":null},
"y":{"field":"T","type":"quantitative","scale":{"domain":[11.24,88.76],"nice":false,"zero":false},"axis":null}}},
{"data":{"values":[{"i":0.375,"T":83.2,"t":"TDI 68.1978 50.2556 32.3133 36.4635 39.3848"}]},"mark":{"type":"text","font":"Liberation Sans","fontSize":10,"align":"left","baseline":"middle","color":"#e8e8e8"},"encoding":{
"x":{"field":"i","type":"quantitative","scale":{"domain":[0,233.25],"nice":false,"zero":false},"axis":null},
"y":{"field":"T","type":"quantitative","scale":{"domain":[11.24,88.76],"nice":false,"zero":false},"axis":null},
"text":{"field":"t"}}}
]
}
]
}
